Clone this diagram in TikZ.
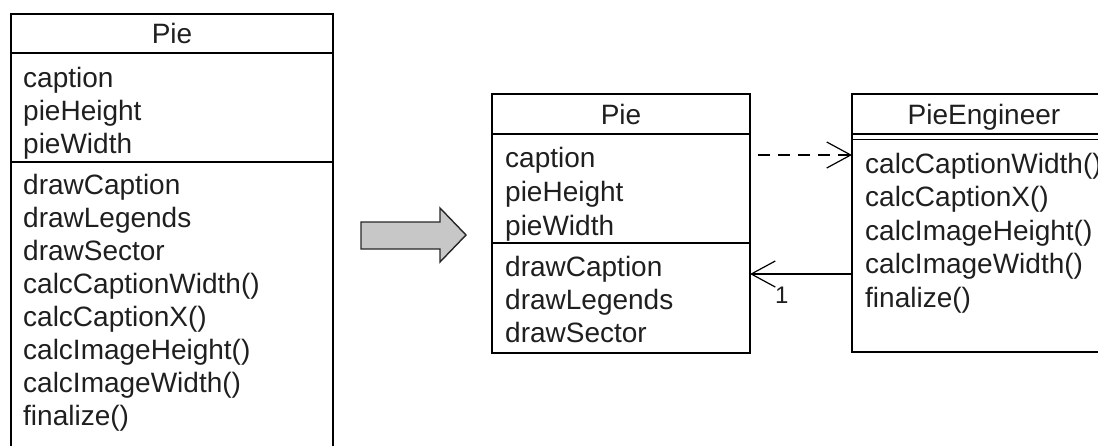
\documentclass[tikz,border=0pt]{standalone}
\usepackage{fontspec}
\setmainfont{Liberation Sans}
\usetikzlibrary{arrows.meta}
\begin{document}
\begin{tikzpicture}[x=1pt,y=-1pt,
  classbox/.style={draw=black, line width=1.3pt, inner sep=0pt, outer sep=0pt, anchor=north west},
  rule/.style={draw=black, line width=1.3pt},
  member/.style={anchor=base west, inner sep=0pt, font=\fontsize{28}{33}\selectfont, text=black!88},
  title/.style={anchor=base, inner sep=0pt, font=\fontsize{28}{33}\selectfont, text=black!88},
  mult/.style={anchor=base west, inner sep=0pt, font=\fontsize{24}{28}\selectfont, text=black!88},
  tip/.style={-{Straight Barb[length=24pt,width=26pt,line width=1.2pt]}},
  dep/.style={tip, line width=1.2pt, dash pattern=on 12pt off 8pt},
  assoc/.style={tip, line width=1.2pt},
  bigarrow/.style={fill=black!22, draw=black!85, line width=1.4pt, line join=miter},
]
\useasboundingbox (0,0) rectangle (1098,445);
\clip (0,0) rectangle (1098,445);

% ---- single Pie class before refactoring ----
\node[classbox, minimum width=322pt, minimum height=460pt] (pieA) at (11,14) {};
\draw[rule] (pieA.west |- 0,53) -- (pieA.east |- 0,53);
\draw[rule] (pieA.west |- 0,162) -- (pieA.east |- 0,162);
\node[title] (pieAname) at (172,43.5) {Pie};
\node[member] (a1) at (23,87) {caption};
\node[member] (a2) at (23,120) {pieHeight};
\node[member] (a3) at (23,153) {pieWidth};
\node[member] (m1) at (23,194) {drawCaption};
\node[member] (m2) at (23,227) {drawLegends};
\node[member] (m3) at (23,260) {drawSector};
\node[member] (m4) at (23,293) {calcCaptionWidth()};
\node[member] (m5) at (23,326) {calcCaptionX()};
\node[member] (m6) at (23,359) {calcImageHeight()};
\node[member] (m7) at (23,392) {calcImageWidth()};
\node[member] (m8) at (23,425) {finalize()};

% ---- refactoring arrow ----
\draw[bigarrow] (361,222) -- (440,222) -- (440,208) -- (466,235)
  -- (440,262) -- (440,249) -- (361,249) -- cycle;

% ---- Pie class after refactoring ----
\node[classbox, minimum width=258pt, minimum height=259pt] (pieB) at (492,94) {};
\draw[rule] (pieB.west |- 0,134) -- (pieB.east |- 0,134);
\draw[rule] (pieB.west |- 0,243) -- (pieB.east |- 0,243);
\node[title] (pieBname) at (621,124) {Pie};
\node[member] (b1) at (505,167) {caption};
\node[member] (b2) at (505,201) {pieHeight};
\node[member] (b3) at (505,235) {pieWidth};
\node[member] (b4) at (505,276) {drawCaption};
\node[member] (b5) at (505,309) {drawLegends};
\node[member] (b6) at (505,342) {drawSector};

% ---- PieEngineer class ----
\node[classbox, minimum width=262pt, minimum height=258pt] (eng) at (852,94) {};
\draw[rule] (eng.west |- 0,134) -- (eng.east |- 0,134);
\draw[rule] (eng.west |- 0,139.5) -- (eng.east |- 0,139.5);
\node[title] (engname) at (984,124) {PieEngineer};
\node[member] (e1) at (865,173) {calcCaptionWidth()};
\node[member] (e2) at (865,206) {calcCaptionX()};
\node[member] (e3) at (865,240) {calcImageHeight()};
\node[member] (e4) at (865,273) {calcImageWidth()};
\node[member] (e5) at (865,307) {finalize()};

% ---- relationships ----
\draw[dep] ([xshift=8pt,yshift=-61pt]pieB.north east) -- ([yshift=-61pt]eng.north west);
\draw[assoc] ([yshift=-180pt]eng.north west) -- ([yshift=-180pt]pieB.north east);
\node[mult] (one) at (775,303) {1};
\end{tikzpicture}
\end{document}
